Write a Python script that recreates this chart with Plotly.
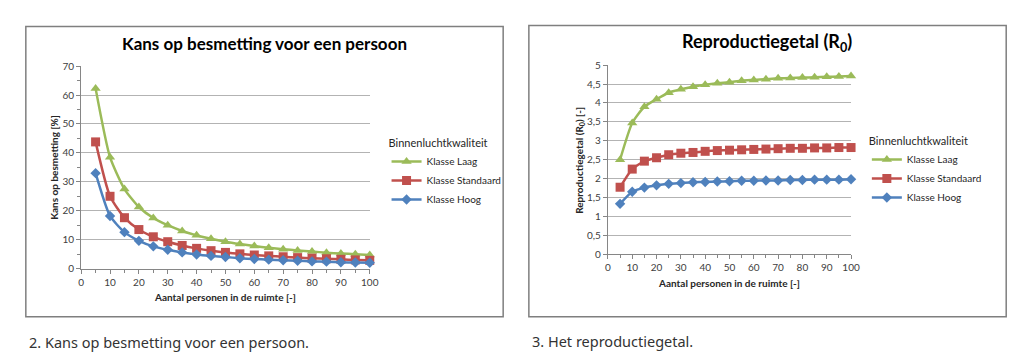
import plotly.graph_objects as go

W, H = 1024, 364

personen = [5, 10, 15, 20, 25, 30, 35, 40, 45, 50, 55, 60, 65, 70, 75, 80, 85, 90, 95, 100]

kans_laag = [62.3, 38.5, 27.5, 21.3, 17.5, 15.0, 13.0, 11.5, 10.3, 9.3, 8.5, 7.8, 7.2, 6.7, 6.3, 5.9, 5.5, 5.2, 5.0, 4.7]
kans_standaard = [43.8, 25.0, 17.6, 13.5, 11.0, 9.3, 8.0, 7.0, 6.2, 5.6, 5.1, 4.7, 4.4, 4.1, 3.8, 3.6, 3.4, 3.2, 3.0, 2.85]
kans_hoog = [33.0, 18.2, 12.6, 9.6, 7.7, 6.5, 5.6, 4.9, 4.4, 4.0, 3.6, 3.3, 3.1, 2.9, 2.7, 2.5, 2.4, 2.2, 2.1, 2.0]

r0_laag = [2.5, 3.47, 3.9, 4.1, 4.27, 4.36, 4.43, 4.48, 4.52, 4.55, 4.59, 4.61, 4.63, 4.65, 4.66, 4.67, 4.68, 4.69, 4.70, 4.71]
r0_standaard = [1.77, 2.25, 2.46, 2.55, 2.63, 2.67, 2.69, 2.72, 2.74, 2.75, 2.76, 2.77, 2.78, 2.79, 2.80, 2.80, 2.81, 2.81, 2.82, 2.82]
r0_hoog = [1.33, 1.65, 1.76, 1.82, 1.86, 1.88, 1.90, 1.91, 1.92, 1.93, 1.94, 1.94, 1.95, 1.95, 1.96, 1.96, 1.97, 1.97, 1.97, 1.98]

series_names = ["Klasse Laag", "Klasse Standaard", "Klasse Hoog"]
x_ticks = [0, 10, 20, 30, 40, 50, 60, 70, 80, 90, 100]
kans_ticks = [0, 10, 20, 30, 40, 50, 60, 70]
r0_tickvals = [0, 0.5, 1, 1.5, 2, 2.5, 3, 3.5, 4, 4.5, 5]
r0_ticktext = ["0", "0,5", "1", "1,5", "2", "2,5", "3", "3,5", "4", "4,5", "5"]

colors = ["#9BBB59", "#C0504D", "#4F81BD"]
symbols = ["triangle-up", "square", "diamond"]
msizes = [9, 9, 8]

FONT = "Lato, Open Sans, sans-serif"


def px(x):
    return x / W


def py(y):
    return 1 - y / H


fig = go.Figure()

left_data = [kans_laag, kans_standaard, kans_hoog]
right_data = [r0_laag, r0_standaard, r0_hoog]

for i in range(3):
    fig.add_trace(go.Scatter(
        x=personen, y=left_data[i], name=series_names[i], mode="lines+markers",
        line=dict(color=colors[i], width=2.5, shape="spline", smoothing=0.6),
        marker=dict(symbol=symbols[i], size=msizes[i], color=colors[i]),
        xaxis="x", yaxis="y", legend="legend", cliponaxis=False))
for i in range(3):
    fig.add_trace(go.Scatter(
        x=personen, y=right_data[i], name=series_names[i], mode="lines+markers",
        line=dict(color=colors[i], width=2.5, shape="spline", smoothing=0.6),
        marker=dict(symbol=symbols[i], size=msizes[i], color=colors[i]),
        xaxis="x2", yaxis="y2", legend="legend2", cliponaxis=False))

tickfont = dict(family=FONT, size=10, color="#404040")
axis_common = dict(
    showline=True, linecolor="#868686", linewidth=1, ticks="outside",
    tickcolor="#868686", ticklen=4, tickfont=tickfont, zeroline=False, fixedrange=True)

fig.update_layout(
    width=W, height=H, margin=dict(l=0, r=0, t=0, b=0),
    paper_bgcolor="white", plot_bgcolor="white",
    font=dict(family=FONT, color="#000000"),
    xaxis=dict(domain=[px(71), px(363)], range=[0, 100], tickvals=x_ticks,
               showgrid=False, anchor="y",
               minor=dict(dtick=5, ticks="outside", ticklen=3, tickcolor="#868686"),
               **axis_common),
    yaxis=dict(domain=[py(263), py(53)], range=[0, 70], tickvals=kans_ticks,
               showgrid=True, gridcolor="#B3B3B3", gridwidth=1, anchor="x",
               minor=dict(dtick=5, ticks="outside", ticklen=3, tickcolor="#868686", showgrid=False),
               **axis_common),
    xaxis2=dict(domain=[px(604), px(850)], range=[0, 100], tickvals=x_ticks,
                showgrid=False, anchor="y2",
                minor=dict(dtick=5, ticks="outside", ticklen=3, tickcolor="#868686"),
                **axis_common),
    yaxis2=dict(domain=[py(248), py(52)], range=[0, 5], tickvals=r0_tickvals,
                ticktext=r0_ticktext, showgrid=True, gridcolor="#B3B3B3", gridwidth=1,
                anchor="x2", **axis_common),
    legend=dict(x=px(380), y=py(122), xanchor="left", yanchor="top",
                title=dict(text="Binnenluchtkwaliteit", font=dict(family=FONT, size=11, color="#262626")),
                font=dict(family=FONT, size=10, color="#262626"),
                bgcolor="rgba(0,0,0,0)", tracegroupgap=0, itemwidth=30),
    legend2=dict(x=px(866), y=py(120), xanchor="left", yanchor="top",
                 title=dict(text="Binnenluchtkwaliteit", font=dict(family=FONT, size=11, color="#262626")),
                 font=dict(family=FONT, size=10, color="#262626"),
                 bgcolor="rgba(0,0,0,0)", tracegroupgap=0, itemwidth=30),
    showlegend=True,
)

# Chart frames
for (x0, y0, x1, y1) in [(15, 12, 498, 313), (524, 11, 1007, 313)]:
    fig.add_shape(type="rect", xref="paper", yref="paper",
                  x0=px(x0), x1=px(x1), y0=py(y1), y1=py(y0),
                  line=dict(color="#7F7F7F", width=1.5), fillcolor="rgba(0,0,0,0)")

ann = []
# Titles
ann.append(dict(text="<b>Kans op besmetting voor een persoon</b>", x=px(257), y=py(30),
                font=dict(family=FONT, size=17, color="#000000")))
ann.append(dict(text="<b>Reproductiegetal (R<sub>0</sub>)</b>", x=px(765), y=py(29),
                font=dict(family=FONT, size=18, color="#000000")))
# Axis titles
ann.append(dict(text="<b>Aantal personen in de ruimte [-]</b>", x=px(217), y=py(292),
                font=dict(family=FONT, size=10, color="#262626")))
ann.append(dict(text="<b>Aantal personen in de ruimte [-]</b>", x=px(727), y=py(278),
                font=dict(family=FONT, size=10, color="#262626")))
ann.append(dict(text="<b>Kans op besmetting [%]</b>", x=px(44), y=py(158), textangle=-90,
                font=dict(family=FONT, size=10, color="#262626")))
ann.append(dict(text="<b>Reproductiegetal (R<sub>0</sub>) [-]</b>", x=px(575), y=py(151), textangle=-90,
                font=dict(family=FONT, size=10, color="#262626")))
# Captions
ann.append(dict(text="2. Kans op besmetting voor een persoon.", x=px(16), y=py(339), xanchor="left",
                font=dict(family="Noto Sans", size=14.5, color="#333333")))
ann.append(dict(text="3. Het reproductiegetal.", x=px(525), y=py(338), xanchor="left",
                font=dict(family="Noto Sans", size=14.5, color="#333333")))

for a in ann:
    a.setdefault("xanchor", "center")
    a.update(xref="paper", yref="paper", yanchor="middle", showarrow=False)
    fig.add_annotation(**a)

fig.write_html("out.html")
